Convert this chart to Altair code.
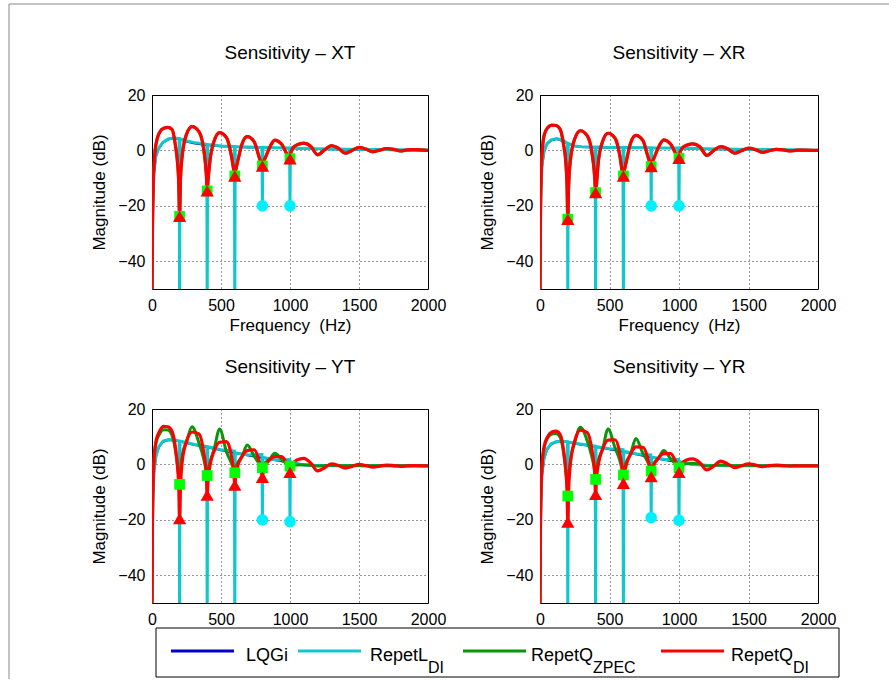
import altair as alt
import pandas as pd

FONT = "Liberation Sans"

# ---------------- data ----------------
# frequency grid for the repetitive-controller curves (RepetQ_DI / RepetQ_ZPEC), Hz
F_Q = [0, 3, 8, 15, 30, 55, 85, 115, 145, 170, 186, 194,
       200, 206, 220, 250, 290, 340, 374, 394,
       400, 406, 420, 450, 490, 540, 574, 594,
       600, 606, 620, 650, 690, 740, 774, 794,
       800, 806, 820, 850, 890, 940, 974, 994,
       1000, 1006, 1020, 1050, 1100, 1150, 1200, 1250, 1300, 1350, 1400,
       1450, 1500, 1550, 1600, 1650, 1700, 1750, 1800, 1850, 1900, 2000]
# frequency grid for RepetL_DI
F_L = [0, 3, 8, 15, 30, 50, 80, 120, 160, 197, 200, 203, 250, 300, 397,
       400, 403, 500, 597, 600, 603, 700, 797, 800, 803, 900, 997, 1000,
       1003, 1100, 1200, 1400, 1600, 1800, 2000]
# frequency grid for LQGi
F_B = [0, 3, 8, 15, 30, 50, 80, 120, 160, 200, 250, 300, 400, 500, 600,
       700, 800, 900, 1000, 1100, 1200, 1400, 1600, 1800, 2000]

NOTCH_F = [200, 400, 600, 800, 1000]
CIRCLE_F = [800, 1000]

# ---- XT ----
XT_LQGI = [-50, -32, -17, -8, -2, 0.7, 2.8, 4.0, 4.3, 4.0, 3.2, 2.6, 1.9, 1.5, 1.3,
           1.1, 1.0, 0.9, 0.8, 0.6, 0.5, 0.3, 0.2, 0.1, 0.0]
XT_REPETL = [-50, -30, -15, -7, -1.5, 1.0, 3.0, 4.2, 4.5, 4.3,
             -60, 4.2, 3.5, 2.9, 2.2,
             -60, 2.2, 1.6, 1.4, -60,
             1.4, 1.2, 1.1, -20, 1.1,
             1.0, 0.9, -20, 0.9, 0.7,
             0.6, 0.4, 0.3, 0.2, 0.1]
XT_DI = [-50, -30, -14, -5, 2.5, 6.5, 8.0, 8.3, 7.6, 1.8, -5, -12,
         -23.8, -11, -1.5, 5.8, 8.6, 6.8, 0.6, -9,
         -14.6, -11, -3.8, 3.4, 6.4, 4.6, -1.6, -7.5,
         -9.2, -7.3, -4.2, 2.0, 5.0, 3.2, -2.0, -5.0,
         -5.6, -4.4, -2.8, 0.8, 3.7, 2.2, -1.0, -2.6,
         -3.0, -1.0, 0.8, 2.0, 2.6, 1.5, -1.6, 0.2, 1.7, 0.8, -1.0,
         0.0, 1.1, 0.5, -0.5, 0.1, 0.7, 0.4, -0.2, 0.2, 0.3, 0.0]
XT_ZPEC = XT_DI  # coincides with RepetQ_DI in this panel

# ---- XR ----
XR_LQGI = [-50, -30, -14, -6, -0.5, 2.2, 3.6, 4.1, 3.5, 2.4, 1.5, 1.2, 1.1, 1.0, 1.0,
           1.0, 0.9, 0.9, 0.8, 0.6, 0.5, 0.3, 0.2, 0.1, 0.0]
XR_REPETL = [-50, -28, -13, -5, 0, 2.5, 3.8, 4.3, 3.7, 2.6,
             -60, 2.5, 1.6, 1.3, 1.2,
             -60, 1.2, 1.1, 1.1, -60,
             1.1, 1.0, 1.0, -20, 1.0,
             0.9, 0.9, -20, 0.9, 0.7,
             0.6, 0.4, 0.3, 0.2, 0.1]
XR_DI = [-50, -25, -9, -1, 5.5, 8.2, 9.1, 9.0, 7.6, 2.0, -4.5, -12,
         -24.8, -13, -3, 4.2, 7.1, 5.3, -0.9, -10,
         -15.2, -12.5, -4, 3.2, 6.2, 4.4, -1.8, -8.2,
         -9.2, -7.5, -4.2, 2.4, 5.4, 3.6, -1.8, -5,
         -5.8, -4.5, -2.8, 0.9, 3.8, 2.3, -0.9, -2.5,
         -2.8, -1.0, 0.6, 1.8, 2.4, 1.3, -1.8, 0.0, 1.4, 0.6, -1.0,
         -0.1, 0.8, 0.3, -0.7, -0.1, 0.4, 0.2, -0.2, 0.1, 0.1, 0.0]
XR_ZPEC = XR_DI  # coincides with RepetQ_DI in this panel

# ---- YT ----
YT_LQGI = [-50, -27, -11, -3, 3.0, 6.2, 8.2, 8.8, 8.7, 8.3, 7.7, 7.1, 6.2, 5.1, 4.1,
           3.2, 2.4, 1.5, 0.6, -0.3, -0.4, -0.5, -0.5, -0.5, -0.5]
YT_REPETL = [-50, -25, -10, -2, 3.5, 6.5, 8.4, 9.0, 8.9, 8.5,
             -60, 8.4, 7.9, 7.3, 6.5,
             -60, 6.4, 5.3, 4.8, -60,
             4.2, 3.4, 3.6, -20, 2.6,
             1.6, 1.8, -20.6, 0.8, -0.2,
             -0.4, -0.5, -0.5, -0.5, -0.5]
YT_DI = [-50, -22, -6, 2, 8.5, 12, 13.7, 13.6, 12, 6, -1.5, -8,
         -19.5, -9, 1.5, 8.2, 11.7, 11.0, 4.5, -4.0,
         -11, -6, -0.5, 4.8, 8.0, 8.2, 3.5, -3.5,
         -7.4, -4.5, -0.8, 2.8, 5.0, 5.3, 1.6, -2.8,
         -4.6, -2.8, -0.6, 1.5, 2.8, 2.8, 0.5, -1.8,
         -2.8, -1.2, 0.3, 1.6, 2.2, 0.5, -2.3, -1.2, 0.2, -0.4, -1.3,
         -0.7, 0.0, -0.4, -1.0, -0.6, -0.2, -0.4, -0.7, -0.5, -0.4, -0.5]
YT_ZPEC = [-50, -22, -6, 2, 8, 11, 12.5, 12.4, 10.5, 5, -1, -4.5,
           -7.2, -2, 3.5, 8.2, 13.6, 7.8, 2.2, -2.5,
           -4, -2, 0.8, 5.5, 12.8, 4.5, 0.6, -2,
           -3, -1.2, 0.5, 2.5, 7.0, 3.0, 0.5, -0.8,
           -1.2, -0.3, 0.6, 1.8, 4.0, 1.8, 0.3, -0.4,
           -0.6, -0.4, -0.3, -0.2, -0.1, -0.3, -0.6, -0.5, -0.3, -0.4, -0.5,
           -0.4, -0.4, -0.5, -0.5, -0.5, -0.5, -0.5, -0.5, -0.5, -0.5, -0.5]

# ---- YR ----
YR_LQGI = [-50, -28, -12, -4, 2.0, 5.2, 7.3, 8.1, 8.2, 8.0, 7.5, 7.1, 6.4, 5.5, 4.6,
           3.6, 2.5, 1.6, 0.8, -0.1, -0.3, -0.5, -0.5, -0.5, -0.5]
YR_REPETL = [-50, -26, -11, -3, 2.5, 5.5, 7.5, 8.3, 8.4, 8.2,
             -60, 8.1, 7.7, 7.3, 6.6,
             -60, 6.5, 5.7, 5.3, -60,
             4.7, 3.8, 3.4, -19.2, 2.7,
             1.8, 1.8, -20.2, 1.0, 0.0,
             -0.3, -0.5, -0.5, -0.5, -0.5]
YR_DI = [-50, -24, -8, 0, 6.5, 10, 11.7, 12.0, 10.8, 5, -2.5, -9,
         -20.8, -9.5, 1, 8.5, 12.4, 11.5, 5, -3.5,
         -10.8, -5.5, 0, 5.5, 8.8, 8.9, 4, -2.8,
         -6.8, -3.8, -0.3, 3.6, 6.3, 6.2, 2.4, -2.4,
         -4.4, -2.4, -0.2, 2.2, 3.9, 3.9, 1.2, -1.5,
         -2.8, -1.2, 0.3, 1.5, 2.0, 0.6, -2.0, -0.6, 1.2, 0.2, -1.2,
         -0.5, 0.2, -0.2, -0.8, -0.4, -0.2, -0.4, -0.6, -0.5, -0.5, -0.5]
YR_ZPEC = [-50, -24, -8, 0, 6, 9.5, 11.0, 11.2, 9.8, 4, -2.5, -6.5,
           -11.4, -5, 1.5, 8, 13.4, 8.5, 2.5, -2.5,
           -5.4, -2, 1.5, 5.5, 12.8, 6, 1.5, -2.5,
           -3.8, -1.5, 0.8, 3.5, 9.4, 4.0, 1.0, -1.5,
           -2.4, -0.8, 0.5, 2.0, 5.0, 2.0, 0.3, -0.8,
           -1.2, -0.6, -0.2, 0.2, 0.4, 0.1, -0.6, -0.4, -0.2, -0.3, -0.5,
           -0.4, -0.3, -0.4, -0.5, -0.5, -0.5, -0.5, -0.5, -0.5, -0.5, -0.5]

TITLES = ["Sensitivity – XT", "Sensitivity – XR", "Sensitivity – YT", "Sensitivity – YR"]
SERIES = ["LQGi", "RepetL", "RepetQ", "RepetQ"]
SERIES_SUB = ["", "DI", "ZPEC", "DI"]

# ---------------- styles ----------------
C_BLUE = "#0000D0"
C_CYAN = "#10C8CC"
C_CYAN_MK = "#00F0FF"
C_GREEN = "#0A960A"
C_GREEN_MK = "#00FF00"
C_RED = "#FF0000"

W_LEFT, W_RIGHT, H = 276, 278, 194
TICK_FS, AXT_FS, TITLE_FS = 16, 17, 19

one = pd.DataFrame({"k": [0]})


def curve(freqs, vals):
    return pd.DataFrame({"f": freqs, "db": vals})


def at(freqs, vals, where):
    look = dict(zip(freqs, vals))
    return pd.DataFrame({"f": where, "db": [look[w] for w in where]})


def panel(idx, lqgi, repl, zpec, di, width, xtitle, extra=None):
    xaxis = dict(values=[0, 500, 1000, 1500, 2000], format="d", grid=True,
                 gridDash=[1, 3], gridColor="black", gridOpacity=0.8, ticks=False,
                 tickSize=0, domain=False, labelFont=FONT, labelFontSize=TICK_FS,
                 labelColor="black", labelPadding=8, titleFont=FONT,
                 titleFontSize=AXT_FS, titleFontWeight="normal", titleColor="black",
                 titlePadding=4, labelFlush=False)
    xaxis["title"] = xtitle if xtitle else None
    x = alt.X("f:Q", scale=alt.Scale(domain=[0, 2000], nice=False, zero=False),
              axis=alt.Axis(**xaxis))
    y = alt.Y("db:Q", scale=alt.Scale(domain=[-50, 20], nice=False, zero=False),
              axis=alt.Axis(values=[-40, -20, 0, 20], grid=True, gridDash=[1, 3],
                            gridColor="black", gridOpacity=0.8, ticks=False,
                            tickSize=0, domain=False, labelFont=FONT,
                            labelFontSize=TICK_FS, labelColor="black", labelPadding=7,
                            title="Magnitude (dB)", titleFont=FONT,
                            titleFontSize=AXT_FS, titleFontWeight="normal",
                            titleColor="black", titlePadding=9, labelFlush=False))
    enc = dict(x=x, y=y, order="f:Q")
    layers = [
        alt.Chart(curve(F_B, lqgi)).mark_line(color=C_BLUE, strokeWidth=2, clip=True).encode(**enc),
        alt.Chart(curve(F_L, repl)).mark_line(color=C_CYAN, strokeWidth=3, clip=True).encode(**enc),
        alt.Chart(curve(F_Q, zpec)).mark_line(color=C_GREEN, strokeWidth=3, clip=True,
                                               interpolate="monotone").encode(**enc),
        alt.Chart(curve(F_Q, di)).mark_line(color=C_RED, strokeWidth=3.2, clip=True,
                                             interpolate="monotone").encode(**enc),
        alt.Chart(at(F_L, repl, CIRCLE_F)).mark_point(shape="circle", filled=True, size=135,
                                                      color=C_CYAN_MK, opacity=1).encode(x=x, y=y),
        alt.Chart(at(F_Q, zpec, NOTCH_F)).mark_point(shape="square", filled=True, size=115,
                                                     color=C_GREEN_MK, opacity=1).encode(x=x, y=y),
        alt.Chart(at(F_Q, di, NOTCH_F)).mark_point(shape="triangle-up", filled=True, size=175,
                                                   color=C_RED, opacity=1).encode(x=x, y=y),
        # panel title as plain text above the plot area
        alt.Chart(one).mark_text(text=TITLES[idx], font=FONT, fontSize=TITLE_FS, align="center",
                                 baseline="middle", color="black", clip=False).encode(
            x=alt.value(width / 2), y=alt.value(-42)),
    ]
    if extra:
        layers += extra
    return alt.layer(*layers).properties(width=width, height=H)


# outer figure frame (left and top edges), drawn relative to the first panel
frame = [
    alt.Chart(one).mark_rule(color="#888888", strokeWidth=1, clip=False).encode(
        x=alt.value(-143), y=alt.value(-91), y2=alt.value(584)),
    alt.Chart(one).mark_rule(color="#888888", strokeWidth=1, clip=False).encode(
        x=alt.value(-143), x2=alt.value(737), y=alt.value(-91)),
]

# legend drawn below the lower panels
leg_colors = [C_BLUE, C_CYAN, C_GREEN, C_RED]
leg_line_x = [19, 146, 311, 509]
leg_text_x = [94, 218, 379, 579]
leg_sub_x = [0, 276, 441, 641]
legend = [
    alt.Chart(one).mark_rect(fill="white", stroke="black", strokeWidth=1, clip=False).encode(
        x=alt.value(4), x2=alt.value(687), y=alt.value(219), y2=alt.value(268)),
]
for i in range(4):
    legend.append(alt.Chart(one).mark_rule(color=leg_colors[i], strokeWidth=3, clip=False).encode(
        x=alt.value(leg_line_x[i]), x2=alt.value(leg_line_x[i] + 63), y=alt.value(242)))
    legend.append(alt.Chart(one).mark_text(text=SERIES[i], font=FONT, fontSize=18, align="left",
                                           baseline="alphabetic", color="black", clip=False).encode(
        x=alt.value(leg_text_x[i]), y=alt.value(252)))
    if SERIES_SUB[i]:
        legend.append(alt.Chart(one).mark_text(text=SERIES_SUB[i], font=FONT, fontSize=16,
                                               align="left", baseline="alphabetic",
                                               color="black", clip=False).encode(
            x=alt.value(leg_sub_x[i]), y=alt.value(264)))

XTITLE = "Frequency\u00a0 (Hz)"
p_xt = panel(0, XT_LQGI, XT_REPETL, XT_ZPEC, XT_DI, W_LEFT, XTITLE, extra=frame)
p_xr = panel(1, XR_LQGI, XR_REPETL, XR_ZPEC, XR_DI, W_RIGHT, XTITLE)
p_yt = panel(2, YT_LQGI, YT_REPETL, YT_ZPEC, YT_DI, W_LEFT, None, extra=legend)
p_yr = panel(3, YR_LQGI, YR_REPETL, YR_ZPEC, YR_DI, W_RIGHT, None)

chart = alt.concat(
    p_xt, p_xr, p_yt, p_yr, columns=2,
    spacing=alt.RowColnumber(row=120, column=112), bounds="flush",
).properties(
    padding={"left": 8, "top": 3, "right": 0, "bottom": 0},
    background="white",
).configure_view(stroke="black", strokeWidth=1)

chart.save("out.html", embed_options={"renderer": "svg", "actions": False})
